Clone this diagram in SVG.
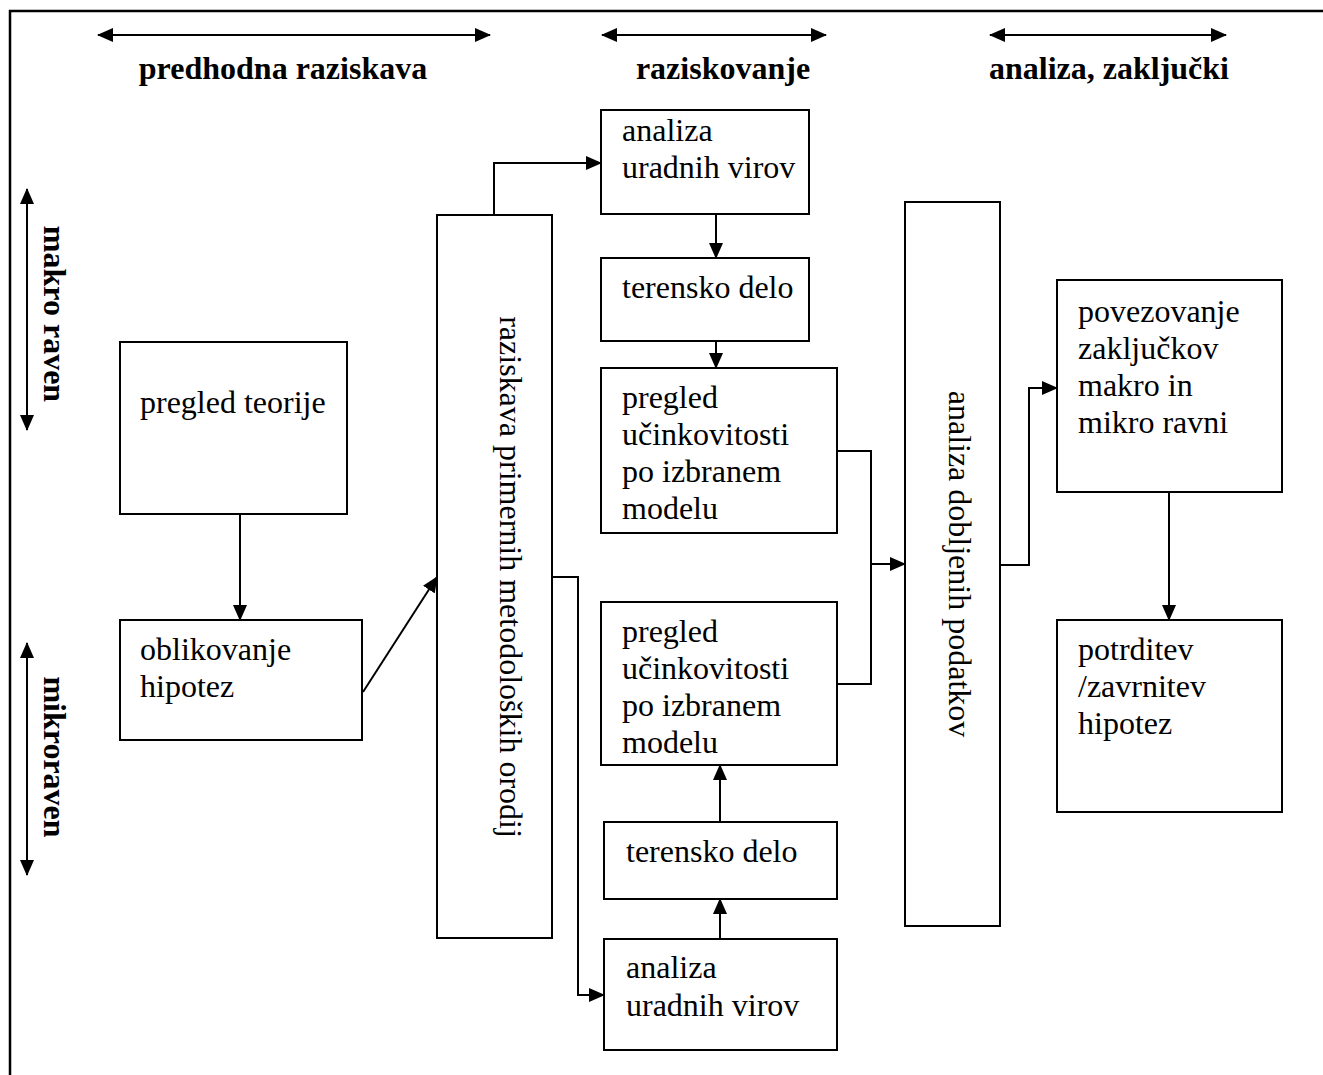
<svg xmlns="http://www.w3.org/2000/svg" width="1323" height="1075" viewBox="0 0 1323 1075">
  <style>
    .box { fill: #fff; stroke: #000; stroke-width: 2; }
    .frame { fill: none; stroke: #000; stroke-width: 2.5; }
    .conn { fill: none; stroke: #000; stroke-width: 2; }
    .t { font-family: "Liberation Serif", "Times New Roman", serif; font-size: 32px; fill: #000; }
    .h { font-family: "Liberation Serif", "Times New Roman", serif; font-size: 32px; font-weight: bold; fill: #000; }
  </style>
  <defs>
    <marker id="arrow" viewBox="0 0 16 14" refX="15" refY="7" markerWidth="16" markerHeight="14" markerUnits="userSpaceOnUse" orient="auto-start-reverse">
      <path d="M0,0 L16,7 L0,14 z" fill="#000"/>
    </marker>
  </defs>

  <rect width="1323" height="1075" fill="#fff"/>

  <!-- page frame (top and left rules) -->
  <path class="frame" d="M10,1075 V11 H1323"/>

  <!-- phase headers -->
  <g id="phase-headers">
    <line class="conn" x1="98" y1="35" x2="490" y2="35" marker-start="url(#arrow)" marker-end="url(#arrow)"/>
    <text class="h" x="283" y="79" text-anchor="middle">predhodna raziskava</text>
    <line class="conn" x1="602" y1="35" x2="826" y2="35" marker-start="url(#arrow)" marker-end="url(#arrow)"/>
    <text class="h" x="723" y="79" text-anchor="middle">raziskovanje</text>
    <line class="conn" x1="990" y1="35" x2="1226" y2="35" marker-start="url(#arrow)" marker-end="url(#arrow)"/>
    <text class="h" x="1109" y="79" text-anchor="middle">analiza, zaključki</text>
  </g>

  <!-- level labels -->
  <g id="level-labels">
    <line class="conn" x1="27" y1="189" x2="27" y2="430" marker-start="url(#arrow)" marker-end="url(#arrow)"/>
    <text class="h" transform="translate(44,314) rotate(90)" text-anchor="middle">makro raven</text>
    <line class="conn" x1="27" y1="643" x2="27" y2="875" marker-start="url(#arrow)" marker-end="url(#arrow)"/>
    <text class="h" transform="translate(44,757) rotate(90)" text-anchor="middle">mikroraven</text>
  </g>

  <!-- nodes -->
  <g id="pregled-teorije">
    <rect class="box" x="120" y="342" width="227" height="172"/>
    <text class="t" x="140" y="413">pregled teorije</text>
  </g>
  <g id="oblikovanje-hipotez">
    <rect class="box" x="120" y="620" width="242" height="120"/>
    <text class="t" x="140" y="660">oblikovanje</text>
    <text class="t" x="140" y="697">hipotez</text>
  </g>
  <g id="raziskava-orodij">
    <rect class="box" x="437" y="215" width="115" height="723"/>
    <text class="t" transform="translate(500,577) rotate(90)" text-anchor="middle">raziskava primernih metodoloških orodij</text>
  </g>
  <g id="analiza-virov-makro">
    <rect class="box" x="601" y="110" width="208" height="104"/>
    <text class="t" x="622" y="141">analiza</text>
    <text class="t" x="622" y="178">uradnih virov</text>
  </g>
  <g id="terensko-delo-makro">
    <rect class="box" x="601" y="258" width="208" height="83"/>
    <text class="t" x="622" y="298">terensko delo</text>
  </g>
  <g id="pregled-ucinkovitosti-makro">
    <rect class="box" x="601" y="368" width="236" height="165"/>
    <text class="t" x="622" y="408">pregled</text>
    <text class="t" x="622" y="445">učinkovitosti</text>
    <text class="t" x="622" y="482">po izbranem</text>
    <text class="t" x="622" y="519">modelu</text>
  </g>
  <g id="pregled-ucinkovitosti-mikro">
    <rect class="box" x="601" y="602" width="236" height="163"/>
    <text class="t" x="622" y="642">pregled</text>
    <text class="t" x="622" y="679">učinkovitosti</text>
    <text class="t" x="622" y="716">po izbranem</text>
    <text class="t" x="622" y="753">modelu</text>
  </g>
  <g id="terensko-delo-mikro">
    <rect class="box" x="604" y="822" width="233" height="77"/>
    <text class="t" x="626" y="862">terensko delo</text>
  </g>
  <g id="analiza-virov-mikro">
    <rect class="box" x="604" y="939" width="233" height="111"/>
    <text class="t" x="626" y="978">analiza</text>
    <text class="t" x="626" y="1016">uradnih virov</text>
  </g>
  <g id="analiza-podatkov">
    <rect class="box" x="905" y="202" width="95" height="724"/>
    <text class="t" transform="translate(949,564) rotate(90)" text-anchor="middle">analiza dobljenih podatkov</text>
  </g>
  <g id="povezovanje-zakljuckov">
    <rect class="box" x="1057" y="280" width="225" height="212"/>
    <text class="t" x="1078" y="322">povezovanje</text>
    <text class="t" x="1078" y="359">zaključkov</text>
    <text class="t" x="1078" y="396">makro in</text>
    <text class="t" x="1078" y="433">mikro ravni</text>
  </g>
  <g id="potrditev-hipotez">
    <rect class="box" x="1057" y="620" width="225" height="192"/>
    <text class="t" x="1078" y="660">potrditev</text>
    <text class="t" x="1078" y="697">/zavrnitev</text>
    <text class="t" x="1078" y="734">hipotez</text>
  </g>

  <!-- connectors -->
  <g id="connectors">
    <line class="conn" x1="240" y1="514" x2="240" y2="620" marker-end="url(#arrow)"/>
    <line class="conn" x1="363" y1="692" x2="437" y2="577" marker-end="url(#arrow)"/>
    <polyline class="conn" points="494,215 494,163 601,163" marker-end="url(#arrow)"/>
    <polyline class="conn" points="552,577 578,577 578,995 604,995" marker-end="url(#arrow)"/>
    <line class="conn" x1="716" y1="214" x2="716" y2="258" marker-end="url(#arrow)"/>
    <line class="conn" x1="716" y1="341" x2="716" y2="368" marker-end="url(#arrow)"/>
    <line class="conn" x1="720" y1="939" x2="720" y2="899" marker-end="url(#arrow)"/>
    <line class="conn" x1="720" y1="822" x2="720" y2="765" marker-end="url(#arrow)"/>
    <polyline class="conn" points="837,451 871,451 871,684 837,684"/>
    <line class="conn" x1="871" y1="564" x2="905" y2="564" marker-end="url(#arrow)"/>
    <polyline class="conn" points="1000,565 1029,565 1029,388 1057,388" marker-end="url(#arrow)"/>
    <line class="conn" x1="1169" y1="492" x2="1169" y2="620" marker-end="url(#arrow)"/>
  </g>
</svg>
